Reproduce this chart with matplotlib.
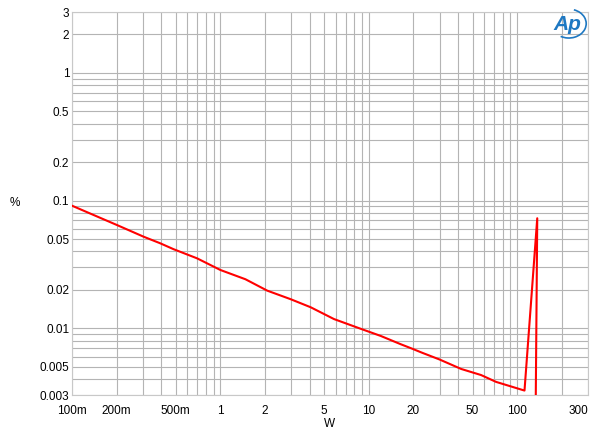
import matplotlib.pyplot as plt
import matplotlib.ticker as mticker
from matplotlib.patches import Arc

plt.rcParams['font.family'] = ['Liberation Sans', 'DejaVu Sans']

# THD+N vs output power
power_w = [0.1, 0.205, 0.303, 0.393, 0.484, 0.696, 1.0, 1.475, 2.07, 2.97,
           4.06, 5.83, 8.83, 12.05, 16.4, 19.7, 23.1, 29.9, 41.9, 57.1, 72.1,
           112, 136.5, 132.4]
thd_pct = [0.0912, 0.0637, 0.0522, 0.0463, 0.0416, 0.0353, 0.0286, 0.0242,
           0.0197, 0.0169, 0.0146, 0.0118, 0.0099, 0.0087, 0.0075, 0.0069,
           0.0064, 0.0057, 0.0048, 0.0043, 0.0038, 0.00325, 0.0727, 0.001]

x_ticks = [0.1, 0.2, 0.5, 1, 2, 5, 10, 20, 50, 100, 300]
x_labels = ['100m', '200m', '500m', '1', '2', '5', '10', '20', '50', '100', '300']
y_ticks = [0.003, 0.005, 0.01, 0.02, 0.05, 0.1, 0.2, 0.5, 1, 2, 3]
y_labels = ['0.003', '0.005', '0.01', '0.02', '0.05', '0.1', '0.2', '0.5', '1', '2', '3']

fig = plt.figure(figsize=(6.0, 4.37), dpi=100)
ax = fig.add_axes([0.12, 0.0961, 0.86, 0.8764])

ax.plot(power_w, thd_pct, color='#ff0000', lw=1.5, zorder=3)

ax.set_xscale('log')
ax.set_yscale('log')
ax.set_xlim(0.1, 300)
ax.set_ylim(0.003, 3)

ax.xaxis.set_major_locator(mticker.FixedLocator(x_ticks))
ax.xaxis.set_major_formatter(mticker.FixedFormatter(x_labels))
ax.yaxis.set_major_locator(mticker.FixedLocator(y_ticks))
ax.yaxis.set_major_formatter(mticker.FixedFormatter(y_labels))
ax.xaxis.set_minor_locator(mticker.LogLocator(base=10, subs=range(1, 10), numticks=20))
ax.yaxis.set_minor_locator(mticker.LogLocator(base=10, subs=range(1, 10), numticks=20))
ax.xaxis.set_minor_formatter(mticker.NullFormatter())
ax.yaxis.set_minor_formatter(mticker.NullFormatter())

ax.grid(True, which='both', color='#b4b4b4', lw=0.8)
ax.set_axisbelow(True)
ax.tick_params(which='both', length=0)
ax.tick_params(axis='x', pad=7, labelsize=8.5)
ax.tick_params(axis='y', pad=2, labelsize=8.5)
ax.get_xticklabels()[-1].set_ha('right')
for s in ax.spines.values():
    s.set_color('#c8c8c8')
    s.set_linewidth(0.8)

fig.text(330 / 600, 1 - 424 / 437, 'W', fontsize=8.5, ha='center', va='center')
fig.text(15 / 600, 1 - 203 / 437, '%', fontsize=8.5, ha='center', va='center')

# Ap logo
fig.text(0.945, 0.945, 'Ap', fontsize=15, fontstyle='italic', fontweight='bold',
         color='#1e78c2', ha='center', va='center')
fig.add_artist(Arc((0.948, 0.946), 0.058, 0.066, theta1=-115, theta2=75,
                   color='#1e78c2', lw=1.2, transform=fig.transFigure))

fig.savefig('out.png', dpi=100)
